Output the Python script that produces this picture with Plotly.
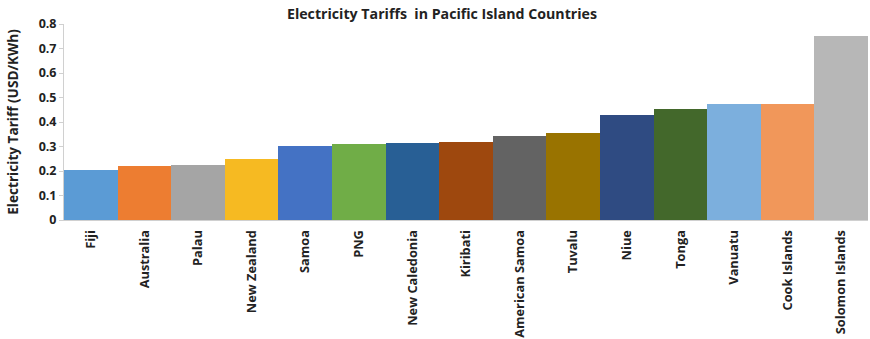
import plotly.graph_objects as go

countries = ["Fiji", "Australia", "Palau", "New Zealand", "Samoa", "PNG",
             "New Caledonia", "Kiribati", "American Samoa", "Tuvalu", "Niue",
             "Tonga", "Vanuatu", "Cook Islands", "Solomon Islands"]
tariffs = [0.204, 0.222, 0.226, 0.248, 0.302, 0.311, 0.315, 0.319,
           0.342, 0.354, 0.428, 0.455, 0.474, 0.474, 0.752]
bar_colors = ["#5B9BD5", "#ED7D31", "#A5A5A5", "#F6BA22", "#4472C4", "#70AD47",
              "#285F95", "#9E480E", "#636363", "#997300", "#2F4B82", "#43682B",
              "#7CAFDD", "#F1975A", "#B7B7B7"]
y_ticks = [0, 0.1, 0.2, 0.3, 0.4, 0.5, 0.6, 0.7, 0.8]

font_family = "Open Sans, DejaVu Sans, sans-serif"

fig = go.Figure(go.Bar(
    x=countries,
    y=tariffs,
    marker=dict(color=bar_colors, line=dict(width=0)),
    hoverinfo="x+y",
))

fig.update_layout(
    width=870, height=339,
    margin=dict(l=64, r=2, t=24, b=119),
    paper_bgcolor="white",
    plot_bgcolor="white",
    bargap=0,
    showlegend=False,
    font=dict(family=font_family, color="#222222"),
    title=dict(
        text="<b>Electricity Tariffs  in Pacific Island Countries</b>",
        x=442 / 870, xanchor="center", xref="container",
        y=1 - 14 / 339, yanchor="middle", yref="container",
        font=dict(size=14.2, color="#222222", family=font_family),
    ),
    xaxis=dict(
        tickangle=-90,
        tickfont=dict(size=12.8, color="#222222", family=font_family),
        showline=True, linecolor="#D0D0D0", linewidth=1,
        ticks="", showgrid=False,
        tickprefix="<b>", ticksuffix="</b>",
        ticklabelstandoff=4,
    ),
    yaxis=dict(
        range=[0, 0.8],
        tickvals=y_ticks,
        ticktext=[f"<b>{v:g}</b>" for v in y_ticks],
        tickfont=dict(size=12.5, color="#222222", family=font_family),
        showline=True, linecolor="#D0D0D0", linewidth=1,
        ticks="outside", ticklen=4, tickcolor="#D0D0D0",
        showgrid=False, zeroline=False,
        title=dict(
            text="<b>Electricity Tariff (USD/KWh)</b>",
            font=dict(size=13.6, color="#222222", family=font_family),
            standoff=16,
        ),
    ),
)

fig.write_html("out.html")
